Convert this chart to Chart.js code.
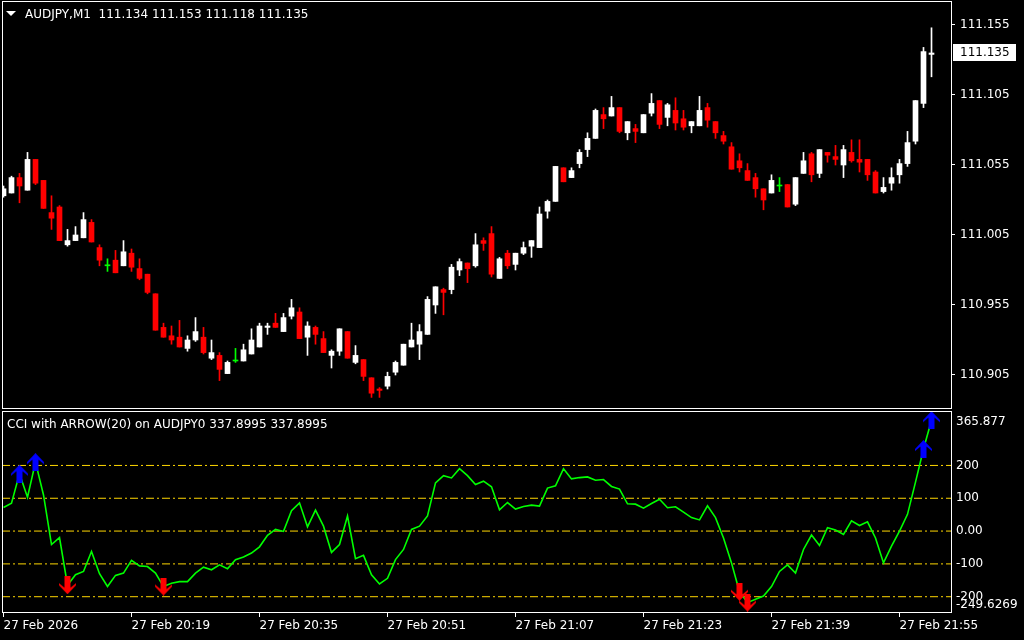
<!DOCTYPE html>
<html>
<head>
<meta charset="utf-8">
<title>AUDJPY M1 with CCI arrows</title>
<script src="https://cdn.jsdelivr.net/npm/chart.js@4.4.1/dist/chart.umd.min.js"></script>
<style>
  html, body { margin: 0; padding: 0; background: #000; }
  body { width: 1024px; height: 640px; position: relative; overflow: hidden; font-family: 'DejaVu Sans', sans-serif; }
  canvas { position: absolute; left: 0; }
  #pricePane { top: 0; }
  #cciPane { top: 410px; }
  .caption { position: absolute; color: #fff; font-size: 12px; line-height: 14px; white-space: pre; }
  #priceTitle { left: 25px; top: 7px; }
  #cciTitle { left: 7px; top: 417px; }
  #tri { position: absolute; left: 6px; top: 11px; width: 0; height: 0;
         border-left: 5px solid transparent; border-right: 5px solid transparent; border-top: 5px solid #fff; }
</style>
</head>
<body>
<canvas id="pricePane" width="1024" height="410"></canvas>
<canvas id="cciPane" width="1024" height="230"></canvas>
<div id="tri"></div>
<div class="caption" id="priceTitle">AUDJPY,M1  111.134 111.153 111.118 111.135</div>
<div class="caption" id="cciTitle">CCI with ARROW(20) on AUDJPY0 337.8995 337.8995</div>
<script>
// one-minute bars, 20:03 .. 21:59
const open = [111.033,111.035,111.046,111.037,111.059,111.044,111.021,111.025,110.998,111.001,
  111.003,111.014,110.996,110.983,110.987,110.983,110.992,110.981,110.977,110.963,
  110.939,110.933,110.932,110.924,110.930,110.932,110.917,110.919,110.906,110.915,
  110.915,110.920,110.925,110.939,110.942,110.936,110.947,110.950,110.932,110.939,
  110.931,110.919,110.922,110.936,110.914,110.916,110.903,110.895,110.897,110.907,
  110.912,110.925,110.927,110.934,110.955,110.966,110.966,110.980,110.985,110.983,
  111.001,111.006,110.974,110.992,110.984,110.992,110.997,110.996,111.022,111.029,
  111.053,111.046,111.056,111.066,111.074,111.091,111.090,111.096,111.078,111.081,
  111.078,111.092,111.101,111.089,111.094,111.088,111.083,111.083,111.096,111.086,
  111.076,111.068,111.058,111.051,111.046,111.038,111.035,111.040,111.041,111.027,
  111.049,111.063,111.049,111.064,111.061,111.055,111.064,111.059,111.059,111.050,
  111.036,111.042,111.048,111.056,111.072,111.099,111.134];
const high = [111.040,111.047,111.049,111.064,111.059,111.044,111.033,111.026,111.009,111.011,
  111.021,111.016,110.998,110.988,110.994,111.001,110.995,110.988,110.977,110.963,
  110.942,110.940,110.944,110.933,110.946,110.939,110.930,110.921,110.915,110.924,
  110.927,110.938,110.942,110.942,110.949,110.949,110.959,110.953,110.943,110.940,
  110.936,110.923,110.938,110.936,110.926,110.916,110.903,110.896,110.907,110.915,
  110.927,110.942,110.941,110.961,110.968,110.967,110.984,110.988,110.985,111.006,
  111.003,111.011,110.989,110.994,110.992,111.000,111.001,111.025,111.030,111.054,
  111.053,111.053,111.066,111.078,111.095,111.096,111.104,111.096,111.086,111.084,
  111.091,111.106,111.101,111.099,111.103,111.094,111.086,111.104,111.099,111.086,
  111.079,111.071,111.063,111.056,111.049,111.038,111.048,111.046,111.041,111.046,
  111.064,111.064,111.066,111.064,111.069,111.069,111.073,111.073,111.059,111.051,
  111.046,111.053,111.059,111.079,111.101,111.139,111.153];
const low = [111.032,111.035,111.028,111.037,111.041,111.024,111.009,111.001,110.997,111.001,
  111.003,111.000,110.983,110.979,110.978,110.983,110.979,110.973,110.963,110.937,
  110.932,110.927,110.925,110.922,110.929,110.920,110.916,110.901,110.906,110.914,
  110.915,110.920,110.925,110.934,110.939,110.936,110.945,110.931,110.919,110.927,
  110.921,110.910,110.919,110.917,110.913,110.901,110.889,110.889,110.895,110.905,
  110.912,110.925,110.916,110.934,110.949,110.948,110.963,110.976,110.971,110.982,
  110.994,110.975,110.974,110.981,110.980,110.991,110.989,110.996,111.017,111.029,
  111.043,111.046,111.053,111.061,111.074,111.081,111.090,111.078,111.073,111.071,
  111.078,111.090,111.081,111.083,111.080,111.080,111.078,111.083,111.082,111.074,
  111.070,111.052,111.050,111.044,111.032,111.023,111.035,111.036,111.025,111.026,
  111.049,111.043,111.046,111.057,111.055,111.046,111.057,111.050,111.044,111.035,
  111.035,111.037,111.042,111.054,111.070,111.096,111.118];
const close = [111.038,111.046,111.040,111.059,111.042,111.024,111.017,111.001,111.001,111.005,
  111.016,111.000,110.987,110.983,110.978,110.993,110.982,110.974,110.964,110.937,
  110.932,110.930,110.925,110.930,110.936,110.921,110.921,110.909,110.914,110.915,
  110.923,110.930,110.940,110.940,110.939,110.946,110.953,110.931,110.940,110.934,
  110.921,110.922,110.938,110.917,110.919,110.904,110.892,110.894,110.904,110.914,
  110.927,110.930,110.936,110.959,110.968,110.964,110.982,110.986,110.981,110.998,
  110.999,110.977,110.988,110.983,110.992,110.996,111.001,111.020,111.029,111.054,
  111.043,111.051,111.064,111.074,111.094,111.088,111.096,111.079,111.086,111.079,
  111.091,111.099,111.084,111.098,111.085,111.082,111.086,111.094,111.087,111.078,
  111.072,111.052,111.053,111.044,111.038,111.030,111.044,111.040,111.025,111.046,
  111.058,111.048,111.066,111.062,111.059,111.066,111.058,111.057,111.048,111.035,
  111.039,111.046,111.056,111.071,111.101,111.136,111.135];

// CCI(20) per bar
const cci = [72,85,175,103,210,110,-41,-20,-165,-133,
  -123,-62,-130,-169,-135,-128,-89,-106,-108,-128,
  -169,-159,-154,-154,-128,-110,-118,-103,-115,-87,
  -79,-67,-48,-13,5,-1,62,86,13,64,
  15,-65,-41,46,-84,-74,-133,-161,-144,-87,
  -56,5,15,46,147,169,162,190,169,142,
  152,135,65,87,67,75,79,76,131,138,
  190,159,163,165,155,157,136,128,83,82,
  70,84,97,71,74,58,41,34,77,41,
  -21,-97,-185,-218,-208,-198,-169,-123,-103,-128,
  -56,-12,-44,10,3,-10,31,17,28,-21,
  -97,-46,0,51,149,250,337.8995];
const upArrowBars = [2, 4, 115, 116];
const downArrowBars = [8, 20, 92, 93];
const cciLevels = [200, 100, 0, -100, -200];
const cciMax = 365.877;
const cciMin = -249.6269;

const priceTicks = [110.905, 110.955, 111.005, 111.055, 111.105, 111.155];
const tickBars = [0, 16, 32, 48, 64, 80, 96, 112];
const timeLabels = ['27 Feb 2026', '27 Feb 20:19', '27 Feb 20:35', '27 Feb 20:51',
  '27 Feb 21:07', '27 Feb 21:23', '27 Feb 21:39', '27 Feb 21:55'];

// 8px per bar across a 950px plot
const xMin = -0.1875;
const xMax = xMin + 950 / 8;
const font = { family: 'DejaVu Sans', size: 12 };

const candleColor = open.map((o, i) => close[i] > o ? '#ffffff' : (close[i] < o ? '#ff0000' : '#00ff00'));

// white box round each pane
const frame = {
  id: 'frame',
  afterDraw(chart) {
    const a = chart.chartArea, c = chart.ctx;
    c.save();
    c.strokeStyle = '#ffffff';
    c.lineWidth = 1;
    c.strokeRect(a.left + 0.5, a.top + 0.5, a.right - a.left - 1, a.bottom - a.top - 1);
    c.restore();
  }
};

const lastPrice = {
  id: 'lastPrice',
  afterDraw(chart) {
    const v = close[close.length - 1];
    const y = Math.round(chart.scales.y.getPixelForValue(v));
    const c = chart.ctx, x = chart.chartArea.right + 1;
    c.save();
    c.fillStyle = '#ffffff';
    c.fillRect(x, y - 9, 63, 17);
    c.fillStyle = '#000000';
    c.font = '12px "DejaVu Sans"';
    c.textBaseline = 'middle';
    c.fillText(v.toFixed(3), x + 7, y);
    c.restore();
  }
};

// min / max captions of the indicator window
const cciRange = {
  id: 'cciRange',
  afterDraw(chart) {
    const a = chart.chartArea, c = chart.ctx, s = chart.scales.y;
    c.save();
    c.fillStyle = '#ffffff';
    c.font = '12px "DejaVu Sans"';
    c.textBaseline = 'middle';
    c.fillText(String(s.max), a.right + 4, a.top + 11);
    c.fillText(String(s.min), a.right + 4, a.bottom - 8);
    c.restore();
  }
};

function arrowImage(color, up) {
  const cv = document.createElement('canvas');
  cv.width = 17; cv.height = 18;
  const g = cv.getContext('2d');
  if (!up) { g.translate(0, 18); g.scale(1, -1); }
  g.fillStyle = color;
  g.beginPath();
  [[8.5, 0], [17, 9], [17, 11], [11.5, 6.5], [11.5, 18], [5.5, 18], [5.5, 6.5], [0, 11], [0, 9]]
    .forEach((p, i) => i ? g.lineTo(p[0], p[1]) : g.moveTo(p[0], p[1]));
  g.closePath();
  g.fill();
  return cv;
}

function fixPadding(s) {
  s.paddingTop = 0; s.paddingBottom = 0; s.paddingLeft = 0; s.paddingRight = 0;
}

new Chart(document.getElementById('pricePane'), {
  type: 'bar',
  data: {
    datasets: [
      {
        data: open.map((o, i) => ({ x: i, y: [low[i], high[i]] })),
        backgroundColor: candleColor,
        barThickness: 1,
        grouped: false,
        order: 2
      },
      {
        data: open.map((o, i) => ({ x: i, y: [o, close[i]] })),
        backgroundColor: candleColor,
        barThickness: 5,
        minBarLength: 1,
        grouped: false,
        order: 1
      }
    ]
  },
  options: {
    responsive: false,
    animation: false,
    events: [],
    layout: { autoPadding: false, padding: { left: 2, top: 1, right: 0, bottom: 1 } },
    plugins: { legend: { display: false }, tooltip: { enabled: false } },
    scales: {
      x: { type: 'linear', min: xMin, max: xMax, offset: false, display: false },
      y: {
        position: 'right',
        min: 110.88071,
        max: 111.17214,
        afterBuildTicks: s => { s.ticks = priceTicks.map(v => ({ value: v })); },
        afterFit: s => { s.width = 72; fixPadding(s); },
        grid: { drawOnChartArea: false, drawTicks: true, tickLength: 3, color: '#ffffff' },
        border: { display: false },
        ticks: { color: '#ffffff', font: font, padding: 5, callback: v => v.toFixed(3) }
      }
    }
  },
  plugins: [frame, lastPrice]
});

new Chart(document.getElementById('cciPane'), {
  type: 'line',
  data: {
    datasets: [
      {
        data: upArrowBars.map(i => ({ x: i, y: cci[i] })),
        showLine: false,
        pointStyle: arrowImage('#0000ff', true),
        pointRadius: 8,
        order: 0
      },
      {
        data: downArrowBars.map(i => ({ x: i, y: cci[i] })),
        showLine: false,
        pointStyle: arrowImage('#ff0000', false),
        pointRadius: 8,
        order: 0
      },
      {
        data: cci.map((v, i) => ({ x: i, y: v })),
        borderColor: '#00ff00',
        borderWidth: 1.6,
        pointRadius: 0,
        tension: 0,
        order: 1
      }
    ].concat(cciLevels.map(l => ({
      data: [{ x: xMin, y: l }, { x: xMax, y: l }],
      borderColor: '#ffd700',
      borderWidth: 1,
      borderDash: [8, 3, 2, 3],
      pointRadius: 0,
      order: 2
    })))
  },
  options: {
    responsive: false,
    animation: false,
    events: [],
    layout: { autoPadding: false, padding: { left: 2, top: 1, right: 0, bottom: 0 } },
    plugins: { legend: { display: false }, tooltip: { enabled: false } },
    scales: {
      x: {
        type: 'linear',
        min: xMin,
        max: xMax,
        afterBuildTicks: s => { s.ticks = tickBars.map(v => ({ value: v })); },
        afterFit: s => { s.height = 27; fixPadding(s); },
        grid: { drawOnChartArea: false, drawTicks: true, tickLength: 4, color: '#ffffff' },
        border: { display: false },
        ticks: {
          color: '#ffffff', font: font, align: 'start', maxRotation: 0, autoSkip: false, padding: 2,
          callback: v => timeLabels[tickBars.indexOf(v)]
        }
      },
      y: {
        position: 'right',
        min: cciMin,
        max: cciMax,
        afterBuildTicks: s => { s.ticks = cciLevels.map(v => ({ value: v })); },
        afterFit: s => { s.width = 72; fixPadding(s); },
        grid: { display: false, drawTicks: false },
        border: { display: false },
        ticks: { color: '#ffffff', font: font, padding: 4, callback: v => v === 0 ? '0.00' : String(v) }
      }
    }
  },
  plugins: [frame, cciRange]
});
</script>
</body>
</html>
